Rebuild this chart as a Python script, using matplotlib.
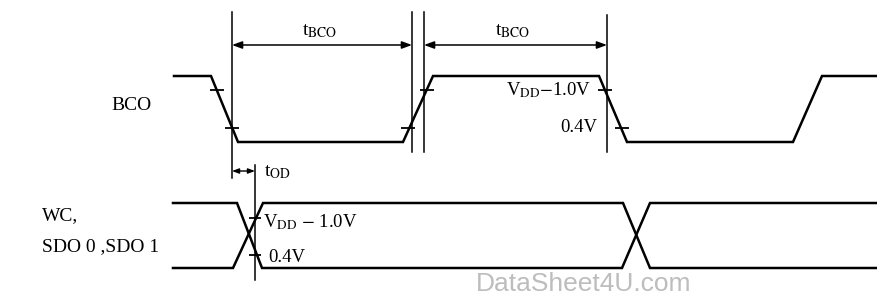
import matplotlib
matplotlib.use("Agg")
import matplotlib.pyplot as plt

plt.rcParams['font.family'] = ['Liberation Serif', 'DejaVu Serif']
plt.rcParams['mathtext.fontset'] = 'stix'

# BCO clock waveform (pixel coords of the sheet, y grows downward)
bco_x = [174, 211, 238, 403, 433, 599, 627, 793, 822, 877]
bco_y = [76, 76, 142, 142, 76, 76, 142, 142, 76, 76]

# WC / SDO bus: two crossing traces
bus_a_x = [173, 237, 262, 622, 650, 877]
bus_a_y = [203, 203, 268, 268, 203, 203]
bus_b_x = [173, 233, 263, 623, 650, 877]
bus_b_y = [268, 268, 203, 203, 268, 268]

# threshold marks (VDD-1.0V and 0.4V)
bco_tick_x = [217, 232, 408, 427, 605, 622]
bco_tick_y = [90, 128, 128, 90, 90, 128]
bus_tick_x = [255, 255]
bus_tick_y = [218, 255]

# reference verticals: x, top, bottom
ref_x = [232, 412, 424, 607, 255]
ref_top = [12, 12, 12, 15, 165]
ref_bot = [178, 152, 152, 152, 280]

fig = plt.figure(figsize=(8.77, 2.96), dpi=100)
ax = fig.add_axes([0, 0, 1, 1])
ax.set_xlim(0, 877)
ax.set_ylim(296, 0)
ax.axis('off')

ax.plot(bco_x, bco_y, color='black', lw=1.8, solid_joinstyle='miter')
ax.plot(bus_a_x, bus_a_y, color='black', lw=1.8, solid_joinstyle='miter')
ax.plot(bus_b_x, bus_b_y, color='black', lw=1.8, solid_joinstyle='miter')

for x, t, b in zip(ref_x, ref_top, ref_bot):
    ax.plot([x, x], [t, b], color='black', lw=1.1)

ax.plot(bco_tick_x, bco_tick_y, ls='none', marker='_', ms=10, mew=1.3, color='black')
ax.plot(bus_tick_x, bus_tick_y, ls='none', marker='_', ms=9, mew=1.3, color='black')

# timing arrows
arr = dict(arrowstyle='<|-|>,head_length=0.6,head_width=0.22', color='black', lw=1.1,
           shrinkA=0, shrinkB=0)
ax.annotate('', xy=(232, 45), xytext=(412, 45), arrowprops=arr)
ax.annotate('', xy=(424, 45), xytext=(607, 45), arrowprops=arr)
arr_s = dict(arrowstyle='<|-|>,head_length=0.4,head_width=0.15', color='black', lw=1.0,
             shrinkA=0, shrinkB=0)
ax.annotate('', xy=(232, 171), xytext=(255, 171), arrowprops=arr_s)

ax.text(320, 31, r't$_{\mathrm{BCO}}$', fontsize=14, ha='center', va='center')
ax.text(513, 31, r't$_{\mathrm{BCO}}$', fontsize=14, ha='center', va='center')
ax.text(264, 172, r't$_{\mathrm{OD}}$', fontsize=14, ha='left', va='center')

ax.text(131, 105, 'BCO', fontsize=14, ha='center', va='center')
ax.text(42, 216, 'WC,', fontsize=14, ha='left', va='center')
ax.text(42, 247, 'SDO 0 ,SDO 1', fontsize=14, ha='left', va='center')

ax.text(591, 90, r'V$_{\mathrm{DD}}$$-$1.0V', fontsize=13.5, ha='right', va='center')
ax.text(597, 127, '0.4V', fontsize=13.5, ha='right', va='center')
ax.text(263, 222, r'V$_{\mathrm{DD}}$ $-$ 1.0V', fontsize=13.5, ha='left', va='center')
ax.text(268, 257, '0.4V', fontsize=13.5, ha='left', va='center')

ax.text(584, 284, 'DataSheet4U.com', fontsize=19, color='#bdbdbd',
        family='Liberation Sans', ha='center', va='center')

fig.savefig('out.png', dpi=100, facecolor='white')
